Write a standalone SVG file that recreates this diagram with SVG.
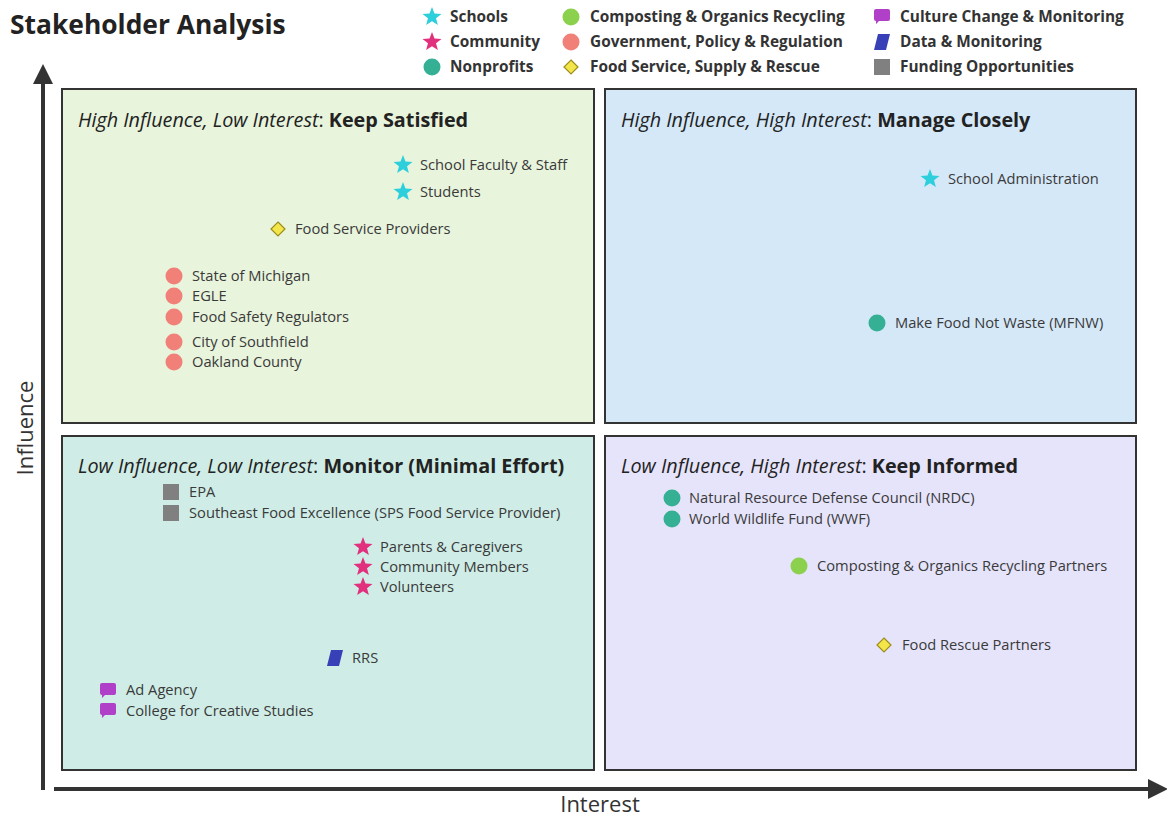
<svg xmlns="http://www.w3.org/2000/svg" width="1167" height="817" viewBox="0 0 1167 817">
<style>
text{font-family:"Open Sans","Noto Sans","Liberation Sans",sans-serif;fill:#333}
.title{font-size:26.4px;font-weight:700;fill:#222}
.leg{font-size:15.4px;font-weight:700;fill:#333}
.hdr{font-size:19.8px;fill:#222}
.hi{font-style:italic}
.hb{font-weight:700}
.lbl{font-size:14.7px;fill:#3a3a3a}
.ax{font-size:22px;fill:#333}
.quad{stroke:#333;stroke-width:2}
.axis{stroke:#333;stroke-width:4;fill:none}
.star-c{fill:#2ecfdc}
.star-p{fill:#e0307e}
.teal{fill:#35b094}
.green{fill:#8bd14e}
.salmon{fill:#f08078}
.dia{fill:#f3e64a;stroke:#9c8c1c;stroke-width:1.2}
.purple{fill:#b040c8}
.blue{fill:#3840b8}
.gray{fill:#808080}
</style>
<defs>
<path id="star" d="M0,-10 L2.48,-3.41 L9.51,-3.09 L4.01,1.3 L5.88,8.09 L0,4.22 L-5.88,8.09 L-4.01,1.3 L-9.51,-3.09 L-2.48,-3.41 Z"/>
<path id="dia" d="M0,-7 L7,0 L0,7 L-7,0 Z"/>
<path id="bubble" d="M-6,-7 H6 Q8,-7 8,-5 V3 Q8,5 6,5 H-3 L-6,8 L-6,5 Q-8,5 -8,3 V-5 Q-8,-7 -6,-7 Z"/>
<path id="para" d="M-4,-8 H8 L4,8 H-8 Z"/>
<rect id="sq" x="-8" y="-8" width="16" height="16"/>
<marker id="arr" viewBox="0 0 10 10" refX="5" refY="5" markerWidth="5" markerHeight="5" orient="auto" markerUnits="strokeWidth">
<path d="M0,0 L10,5 L0,10 Z" fill="#333"/>
</marker>
</defs>
<rect width="1167" height="817" fill="#fff"/>

<text class="title" x="10" y="34">Stakeholder Analysis</text>

<g id="legend">
<use href="#star" class="star-c" x="432" y="17"/><text class="leg" x="450" y="22">Schools</text>
<use href="#star" class="star-p" x="432" y="42"/><text class="leg" x="450" y="47">Community</text>
<circle class="teal" cx="432" cy="67" r="8.5"/><text class="leg" x="450" y="72">Nonprofits</text>
<circle class="green" cx="571" cy="17" r="8.5"/><text class="leg" x="590" y="22">Composting &amp; Organics Recycling</text>
<circle class="salmon" cx="571" cy="42" r="8.5"/><text class="leg" x="590" y="47">Government, Policy &amp; Regulation</text>
<use href="#dia" class="dia" x="571" y="67"/><text class="leg" x="590" y="72">Food Service, Supply &amp; Rescue</text>
<use href="#bubble" class="purple" x="882" y="16"/><text class="leg" x="900" y="22">Culture Change &amp; Monitoring</text>
<use href="#para" class="blue" x="882" y="42"/><text class="leg" x="900" y="47">Data &amp; Monitoring</text>
<use href="#sq" class="gray" x="882" y="67"/><text class="leg" x="900" y="72">Funding Opportunities</text>
</g>

<g id="axes">
<line class="axis" x1="43" y1="790" x2="43" y2="74" marker-end="url(#arr)"/>
<line class="axis" x1="54" y1="789" x2="1158" y2="789" marker-end="url(#arr)"/>
<text class="ax" x="0" y="0" transform="translate(33,428) rotate(-90)" text-anchor="middle">Influence</text>
<text class="ax" x="600" y="812" text-anchor="middle">Interest</text>
</g>

<g id="q-keep-satisfied">
<rect class="quad" x="62" y="89" width="532" height="334" fill="#e8f4dc"/>
<text class="hdr" x="78" y="127"><tspan class="hi">High Influence, Low Interest</tspan>: <tspan class="hb">Keep Satisfied</tspan></text>
</g>
<g id="q-manage-closely">
<rect class="quad" x="605" y="89" width="531" height="334" fill="#d5e8f8"/>
<text class="hdr" x="621" y="127"><tspan class="hi">High Influence, High Interest</tspan>: <tspan class="hb">Manage Closely</tspan></text>
</g>
<g id="q-monitor">
<rect class="quad" x="62" y="436" width="532" height="334" fill="#cfede6"/>
<text class="hdr" x="78" y="473"><tspan class="hi">Low Influence, Low Interest</tspan>: <tspan class="hb">Monitor (Minimal Effort)</tspan></text>
</g>
<g id="q-keep-informed">
<rect class="quad" x="605" y="436" width="531" height="334" fill="#e6e4fa"/>
<text class="hdr" x="621" y="473"><tspan class="hi">Low Influence, High Interest</tspan>: <tspan class="hb">Keep Informed</tspan></text>
</g>

<g id="n-faculty"><use href="#star" class="star-c" x="403" y="165"/><text class="lbl" x="420" y="170">School Faculty &amp; Staff</text></g>
<g id="n-students"><use href="#star" class="star-c" x="403" y="192"/><text class="lbl" x="420" y="197">Students</text></g>
<g id="n-fsp"><use href="#dia" class="dia" x="278" y="229"/><text class="lbl" x="295" y="234">Food Service Providers</text></g>
<g id="n-michigan"><circle class="salmon" cx="174" cy="276" r="8.5"/><text class="lbl" x="192" y="281">State of Michigan</text></g>
<g id="n-egle"><circle class="salmon" cx="174" cy="296" r="8.5"/><text class="lbl" x="192" y="301">EGLE</text></g>
<g id="n-fsr"><circle class="salmon" cx="174" cy="317" r="8.5"/><text class="lbl" x="192" y="322">Food Safety Regulators</text></g>
<g id="n-southfield"><circle class="salmon" cx="174" cy="342" r="8.5"/><text class="lbl" x="192" y="347">City of Southfield</text></g>
<g id="n-oakland"><circle class="salmon" cx="174" cy="362" r="8.5"/><text class="lbl" x="192" y="367">Oakland County</text></g>

<g id="n-admin"><use href="#star" class="star-c" x="930" y="179"/><text class="lbl" x="948" y="184">School Administration</text></g>
<g id="n-mfnw"><circle class="teal" cx="877" cy="323" r="8.5"/><text class="lbl" x="895" y="328">Make Food Not Waste (MFNW)</text></g>

<g id="n-epa"><use href="#sq" class="gray" x="171" y="492"/><text class="lbl" x="189" y="497">EPA</text></g>
<g id="n-sfe"><use href="#sq" class="gray" x="171" y="513"/><text class="lbl" x="189" y="518">Southeast Food Excellence (SPS Food Service Provider)</text></g>
<g id="n-parents"><use href="#star" class="star-p" x="363" y="547"/><text class="lbl" x="380" y="552">Parents &amp; Caregivers</text></g>
<g id="n-community"><use href="#star" class="star-p" x="363" y="567"/><text class="lbl" x="380" y="572">Community Members</text></g>
<g id="n-volunteers"><use href="#star" class="star-p" x="363" y="587"/><text class="lbl" x="380" y="592">Volunteers</text></g>
<g id="n-rrs"><use href="#para" class="blue" x="335" y="658"/><text class="lbl" x="352" y="663">RRS</text></g>
<g id="n-ad"><use href="#bubble" class="purple" x="108" y="690"/><text class="lbl" x="126" y="695">Ad Agency</text></g>
<g id="n-ccs"><use href="#bubble" class="purple" x="108" y="710"/><text class="lbl" x="126" y="716">College for Creative Studies</text></g>

<g id="n-nrdc"><circle class="teal" cx="672" cy="498" r="8.5"/><text class="lbl" x="689" y="503">Natural Resource Defense Council (NRDC)</text></g>
<g id="n-wwf"><circle class="teal" cx="672" cy="519" r="8.5"/><text class="lbl" x="689" y="524">World Wildlife Fund (WWF)</text></g>
<g id="n-compost"><circle class="green" cx="799" cy="566" r="8.5"/><text class="lbl" x="817" y="571">Composting &amp; Organics Recycling Partners</text></g>
<g id="n-rescue"><use href="#dia" class="dia" x="884" y="645"/><text class="lbl" x="902" y="650">Food Rescue Partners</text></g>

<g id="connectors"></g>
</svg>
